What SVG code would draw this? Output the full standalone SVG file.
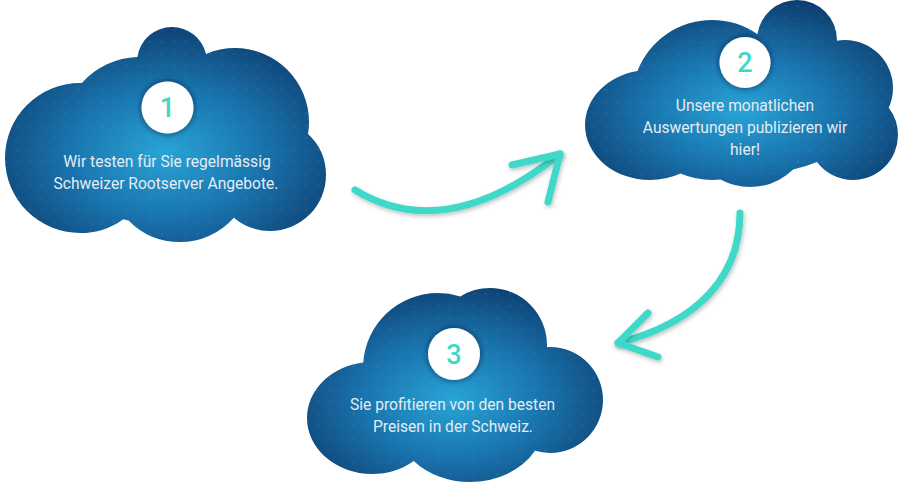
<svg xmlns="http://www.w3.org/2000/svg" width="905" height="484" viewBox="0 0 905 484">
<defs>
<style>
.lbl{font-family:Roboto,"Liberation Sans",sans-serif;font-size:15.6px;fill:#e4ecf4;text-anchor:middle}
.num{font-family:Roboto,"Liberation Sans",sans-serif;font-size:27px;font-weight:500;fill:#3fd8c8;text-anchor:middle}
.badge{fill:#fff;filter:url(#badgeShadow)}
.arrow{fill:none;stroke:#3fd8c8;stroke-width:7;stroke-linecap:round;stroke-linejoin:round;filter:url(#arrowShadow)}
</style>
<radialGradient id="cloudGrad" cx="0.5" cy="0.58" r="0.62">
<stop offset="0" stop-color="#28a4d6"/>
<stop offset="0.45" stop-color="#1a76b0"/>
<stop offset="1" stop-color="#0c3a6b"/>
</radialGradient>
<pattern id="dots" width="12" height="12" patternUnits="userSpaceOnUse">
<circle cx="6" cy="6" r="1" fill="#7fd0f0" fill-opacity="0.14"/>
</pattern>
<filter id="badgeShadow" x="-50%" y="-50%" width="200%" height="200%">
<feDropShadow dx="0" dy="0" stdDeviation="3" flood-color="#001a33" flood-opacity="0.75"/>
</filter>
<filter id="arrowShadow" x="-20%" y="-20%" width="140%" height="140%">
<feDropShadow dx="1" dy="2" stdDeviation="2" flood-color="#000" flood-opacity="0.25"/>
</filter>
<clipPath id="clip1">
<circle cx="80" cy="158" r="75"/>
<circle cx="140" cy="135" r="78"/>
<circle cx="172" cy="62" r="35"/>
<circle cx="235" cy="122" r="74"/>
<circle cx="270" cy="175" r="56"/>
<circle cx="180" cy="170" r="72"/>
<ellipse cx="170" cy="150" rx="120" ry="75"/>
</clipPath>
<clipPath id="clip2">
<ellipse cx="650" cy="125" rx="65" ry="55"/>
<circle cx="712" cy="100" r="80"/>
<circle cx="797" cy="40" r="40"/>
<circle cx="845" cy="88" r="48"/>
<circle cx="853" cy="135" r="45"/>
<circle cx="750" cy="125" r="62"/>
<ellipse cx="745" cy="110" rx="120" ry="65"/>
</clipPath>
<clipPath id="clip3">
<ellipse cx="372" cy="418" rx="65" ry="56"/>
<circle cx="438" cy="368" r="75"/>
<circle cx="490" cy="345" r="57"/>
<circle cx="550" cy="400" r="53"/>
<ellipse cx="470" cy="420" rx="75" ry="62"/>
<ellipse cx="455" cy="400" rx="110" ry="60"/>
</clipPath>
</defs>
<g id="connectors">
<path class="arrow" d="M355,190 Q445,245 560,154"/>
<path class="arrow" d="M512,165 L560,154 L548,202"/>
<path class="arrow" d="M740,213 C740,275 700,322 618,343"/>
<path class="arrow" d="M648,313 L618,343 L658,357"/>
</g>
<g id="cloud1">
<g clip-path="url(#clip1)">
<rect x="0" y="25" width="330" height="220" fill="url(#cloudGrad)"/>
<rect x="0" y="25" width="330" height="220" fill="url(#dots)"/>
</g>
<circle class="badge" cx="167.5" cy="107.5" r="26"/>
<text class="num" x="167.5" y="117">1</text>
<text class="lbl" x="167" y="167">Wir testen für Sie regelmässig</text>
<text class="lbl" x="166" y="189">Schweizer Rootserver Angebote.</text>
</g>
<g id="cloud2">
<g clip-path="url(#clip2)">
<rect x="580" y="0" width="322" height="190" fill="url(#cloudGrad)"/>
<rect x="580" y="0" width="322" height="190" fill="url(#dots)"/>
</g>
<circle class="badge" cx="745" cy="62.5" r="25.5"/>
<text class="num" x="745" y="72">2</text>
<text class="lbl" x="745" y="111">Unsere monatlichen</text>
<text class="lbl" x="745" y="133">Auswertungen publizieren wir</text>
<text class="lbl" x="745" y="155">hier!</text>
</g>
<g id="cloud3">
<g clip-path="url(#clip3)">
<rect x="300" y="283" width="306" height="201" fill="url(#cloudGrad)"/>
<rect x="300" y="283" width="306" height="201" fill="url(#dots)"/>
</g>
<circle class="badge" cx="454" cy="354" r="26"/>
<text class="num" x="454" y="363.5">3</text>
<text class="lbl" x="452.5" y="410">Sie profitieren von den besten</text>
<text class="lbl" x="453" y="432">Preisen in der Schweiz.</text>
</g>
</svg>
